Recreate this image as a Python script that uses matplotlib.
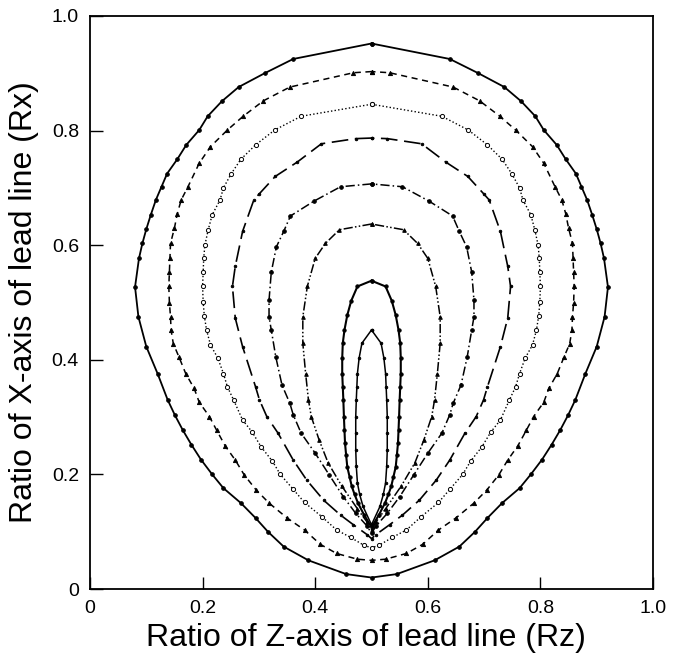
import matplotlib
matplotlib.use("Agg")
import matplotlib.pyplot as plt

plt.rcParams['font.family'] = ['Liberation Sans', 'DejaVu Sans']

# Curves (Rz, Rx), each a closed loop: top -> left side -> bottom -> right side -> top
curve1 = [(0.500,0.952),(0.361,0.925),(0.310,0.900),(0.264,0.876),(0.234,0.851),(0.209,0.825),(0.194,0.801),
          (0.171,0.775),(0.155,0.750),(0.137,0.725),(0.127,0.702),(0.117,0.679),(0.108,0.653),(0.100,0.628),
          (0.093,0.603),(0.087,0.577),(0.080,0.527),(0.086,0.475),(0.100,0.423),(0.120,0.376),(0.138,0.330),
          (0.151,0.303),(0.165,0.277),(0.180,0.252),(0.197,0.226),(0.217,0.200),(0.237,0.176),(0.268,0.150),
          (0.294,0.124),(0.316,0.100),(0.344,0.074),(0.388,0.050),(0.455,0.026),(0.500,0.020),
          (0.545,0.026),(0.612,0.050),(0.656,0.074),(0.684,0.100),(0.706,0.124),(0.732,0.150),(0.763,0.176),
          (0.783,0.200),(0.803,0.226),(0.820,0.252),(0.835,0.277),(0.849,0.303),(0.862,0.330),(0.880,0.376),
          (0.900,0.423),(0.914,0.475),(0.920,0.527),(0.913,0.577),(0.907,0.603),(0.900,0.628),(0.892,0.653),
          (0.883,0.679),(0.873,0.702),(0.863,0.725),(0.845,0.750),(0.829,0.775),(0.806,0.801),(0.791,0.825),
          (0.766,0.851),(0.736,0.876),(0.690,0.900),(0.639,0.925),(0.500,0.952)]

curve2 = [(0.500,0.903),(0.468,0.901),(0.355,0.876),(0.308,0.852),(0.272,0.825),(0.244,0.801),(0.214,0.772),
          (0.194,0.743),(0.174,0.702),(0.162,0.679),(0.155,0.655),(0.150,0.630),(0.143,0.603),(0.142,0.578),
          (0.141,0.553),(0.140,0.528),(0.141,0.500),(0.143,0.475),(0.144,0.452),(0.148,0.428),(0.158,0.405),
          (0.170,0.376),(0.185,0.350),(0.194,0.326),(0.212,0.301),(0.225,0.277),(0.240,0.250),(0.258,0.225),
          (0.274,0.199),(0.295,0.173),(0.318,0.150),(0.350,0.124),(0.381,0.103),(0.409,0.078),(0.438,0.062),
          (0.475,0.052),(0.500,0.050),
          (0.525,0.052),(0.562,0.062),(0.591,0.078),(0.619,0.103),(0.650,0.124),(0.682,0.150),(0.705,0.173),
          (0.726,0.199),(0.742,0.225),(0.760,0.250),(0.775,0.277),(0.788,0.301),(0.806,0.326),(0.815,0.350),
          (0.830,0.376),(0.842,0.405),(0.852,0.428),(0.856,0.452),(0.857,0.475),(0.859,0.500),(0.860,0.528),
          (0.859,0.553),(0.858,0.578),(0.857,0.603),(0.850,0.630),(0.845,0.655),(0.838,0.679),(0.826,0.702),
          (0.806,0.743),(0.786,0.772),(0.756,0.801),(0.728,0.825),(0.692,0.852),(0.645,0.876),(0.532,0.901),
          (0.500,0.903)]

curve3 = [(0.500,0.846),(0.375,0.825),(0.328,0.801),(0.294,0.775),(0.268,0.750),(0.251,0.725),(0.237,0.700),
          (0.231,0.679),(0.217,0.653),(0.210,0.627),(0.204,0.600),(0.202,0.577),(0.201,0.553),(0.200,0.528),
          (0.201,0.501),(0.203,0.477),(0.207,0.452),(0.214,0.426),(0.227,0.403),(0.237,0.376),(0.244,0.353),
          (0.255,0.330),(0.271,0.295),(0.288,0.274),(0.304,0.248),(0.324,0.223),(0.338,0.200),(0.360,0.175),
          (0.381,0.151),(0.412,0.126),(0.438,0.103),(0.463,0.090),(0.487,0.076),(0.500,0.072),
          (0.513,0.076),(0.537,0.090),(0.562,0.103),(0.588,0.126),(0.619,0.151),(0.640,0.175),(0.662,0.200),
          (0.676,0.223),(0.696,0.248),(0.712,0.274),(0.729,0.295),(0.745,0.330),(0.756,0.353),(0.763,0.376),
          (0.773,0.403),(0.786,0.426),(0.793,0.452),(0.797,0.477),(0.799,0.501),(0.800,0.528),(0.799,0.553),
          (0.798,0.577),(0.796,0.600),(0.790,0.627),(0.783,0.653),(0.769,0.679),(0.763,0.700),(0.749,0.725),
          (0.732,0.750),(0.706,0.775),(0.672,0.801),(0.625,0.825),(0.500,0.846)]

curve4 = [(0.500,0.787),(0.472,0.786),(0.411,0.777),(0.368,0.745),(0.329,0.720),(0.301,0.690),(0.291,0.679),
          (0.271,0.624),(0.258,0.563),(0.253,0.528),(0.258,0.473),(0.271,0.423),(0.294,0.353),(0.301,0.330),
          (0.314,0.301),(0.334,0.272),(0.361,0.225),(0.385,0.190),(0.415,0.155),(0.445,0.129),(0.468,0.112),
          (0.492,0.095),(0.500,0.088),
          (0.508,0.095),(0.532,0.112),(0.555,0.129),(0.585,0.155),(0.615,0.190),(0.639,0.225),(0.666,0.272),
          (0.686,0.301),(0.699,0.330),(0.706,0.353),(0.729,0.423),(0.742,0.473),(0.747,0.528),(0.742,0.563),
          (0.729,0.624),(0.709,0.679),(0.699,0.690),(0.671,0.720),(0.632,0.745),(0.589,0.777),(0.528,0.786),
          (0.500,0.787)]

curve5 = [(0.500,0.707),(0.445,0.702),(0.398,0.677),(0.356,0.651),(0.344,0.624),(0.331,0.597),(0.322,0.553),
          (0.318,0.504),(0.318,0.475),(0.322,0.452),(0.330,0.405),(0.341,0.356),(0.355,0.324),(0.361,0.304),
          (0.375,0.272),(0.400,0.237),(0.425,0.199),(0.450,0.161),(0.472,0.132),(0.492,0.110),(0.500,0.097),
          (0.508,0.110),(0.528,0.132),(0.550,0.161),(0.575,0.199),(0.600,0.237),(0.625,0.272),(0.639,0.304),
          (0.645,0.324),(0.659,0.356),(0.670,0.405),(0.678,0.452),(0.682,0.475),(0.682,0.504),(0.678,0.553),
          (0.669,0.597),(0.656,0.624),(0.644,0.651),(0.602,0.677),(0.555,0.702),(0.500,0.707)]

curve6 = [(0.500,0.637),(0.443,0.627),(0.418,0.603),(0.400,0.577),(0.386,0.528),(0.378,0.475),(0.378,0.429),
          (0.383,0.376),(0.388,0.330),(0.393,0.301),(0.407,0.260),(0.423,0.220),(0.447,0.180),(0.475,0.140),
          (0.492,0.117),(0.500,0.103),
          (0.508,0.117),(0.525,0.140),(0.553,0.180),(0.577,0.220),(0.593,0.260),(0.607,0.301),(0.612,0.330),
          (0.617,0.376),(0.622,0.429),(0.622,0.475),(0.614,0.528),(0.600,0.577),(0.582,0.603),(0.557,0.627),
          (0.500,0.637)]

curve7 = [(0.500,0.538),(0.475,0.528),(0.464,0.503),(0.457,0.478),(0.452,0.452),(0.449,0.429),(0.448,0.403),
          (0.448,0.376),(0.449,0.353),(0.450,0.330),(0.451,0.301),(0.452,0.277),(0.453,0.254),(0.455,0.233),
          (0.457,0.213),(0.461,0.196),(0.465,0.179),(0.470,0.165),(0.476,0.150),(0.487,0.129),(0.500,0.108),
          (0.513,0.129),(0.524,0.150),(0.530,0.165),(0.535,0.179),(0.539,0.196),(0.543,0.213),(0.545,0.233),
          (0.547,0.254),(0.548,0.277),(0.549,0.301),(0.550,0.330),(0.551,0.353),(0.552,0.376),(0.552,0.403),
          (0.551,0.429),(0.548,0.452),(0.543,0.478),(0.536,0.503),(0.525,0.528),(0.500,0.538)]

curve8 = [(0.500,0.452),(0.483,0.429),(0.478,0.403),(0.475,0.376),(0.474,0.353),(0.473,0.330),(0.472,0.301),
          (0.472,0.272),(0.472,0.243),(0.473,0.214),(0.475,0.185),(0.479,0.165),(0.485,0.144),(0.500,0.112),
          (0.515,0.144),(0.521,0.165),(0.525,0.185),(0.527,0.214),(0.528,0.243),(0.528,0.272),(0.528,0.301),
          (0.527,0.330),(0.526,0.353),(0.525,0.376),(0.522,0.403),(0.517,0.429),(0.500,0.452)]

ticks = [0, 0.2, 0.4, 0.6, 0.8, 1.0]
x_ticklabels = ['0', '0.2', '0.4', '0.6', '0.8', '1.0']
y_ticklabels = ['0', '0.2', '0.4', '0.6', '0.8', '1.0']

styles = [
    dict(curve=curve1, ls='-', marker='o', ms=2.6, mfc='black', lw=1.3),
    dict(curve=curve2, ls=(0, (4, 3)), marker='^', ms=3.0, mfc='black', lw=1.1),
    dict(curve=curve3, ls=(0, (1, 1.6)), marker='o', ms=3.0, mfc='white', lw=1.0),
    dict(curve=curve4, ls=(0, (10, 4)), marker='o', ms=1.8, mfc='black', lw=1.2),
    dict(curve=curve5, ls=(0, (6, 2, 1, 2)), marker='o', ms=2.6, mfc='black', lw=1.1),
    dict(curve=curve6, ls=(0, (6, 1.5, 1, 1.5, 1, 1.5)), marker='^', ms=2.6, mfc='black', lw=1.1),
    dict(curve=curve7, ls='-', marker='o', ms=2.4, mfc='black', lw=1.5),
    dict(curve=curve8, ls='-', marker='o', ms=1.8, mfc='black', lw=1.1),
]

fig = plt.figure(figsize=(6.81, 6.61), dpi=100)
ax = fig.add_axes([90/681, 72/661, 563/681, 573/661])

for s in styles:
    xs = [p[0] for p in s['curve']]
    ys = [p[1] for p in s['curve']]
    ax.plot(xs, ys, color='black', linestyle=s['ls'], lw=s['lw'], marker=s['marker'],
            markersize=s['ms'], markerfacecolor=s['mfc'], markeredgecolor='black',
            markeredgewidth=0.7)

ax.set_xlim(0, 1.0)
ax.set_ylim(0, 1.0)
ax.set_xticks(ticks)
ax.set_xticklabels(x_ticklabels)
ax.set_yticks(ticks)
ax.set_yticklabels(y_ticklabels)
ax.tick_params(direction='in', length=9, width=1.0, labelsize=14, pad=8,
               top=False, right=False)
for sp in ax.spines.values():
    sp.set_linewidth(1.3)

ax.set_xlabel('Ratio of Z-axis of lead line (Rz)', fontsize=23)
ax.set_ylabel('Ratio of X-axis of lead line (Rx)', fontsize=23)
ax.xaxis.set_label_coords(0.49, -0.060)
ax.yaxis.set_label_coords(-0.090, 0.5)

fig.savefig('out.png', dpi=100)
